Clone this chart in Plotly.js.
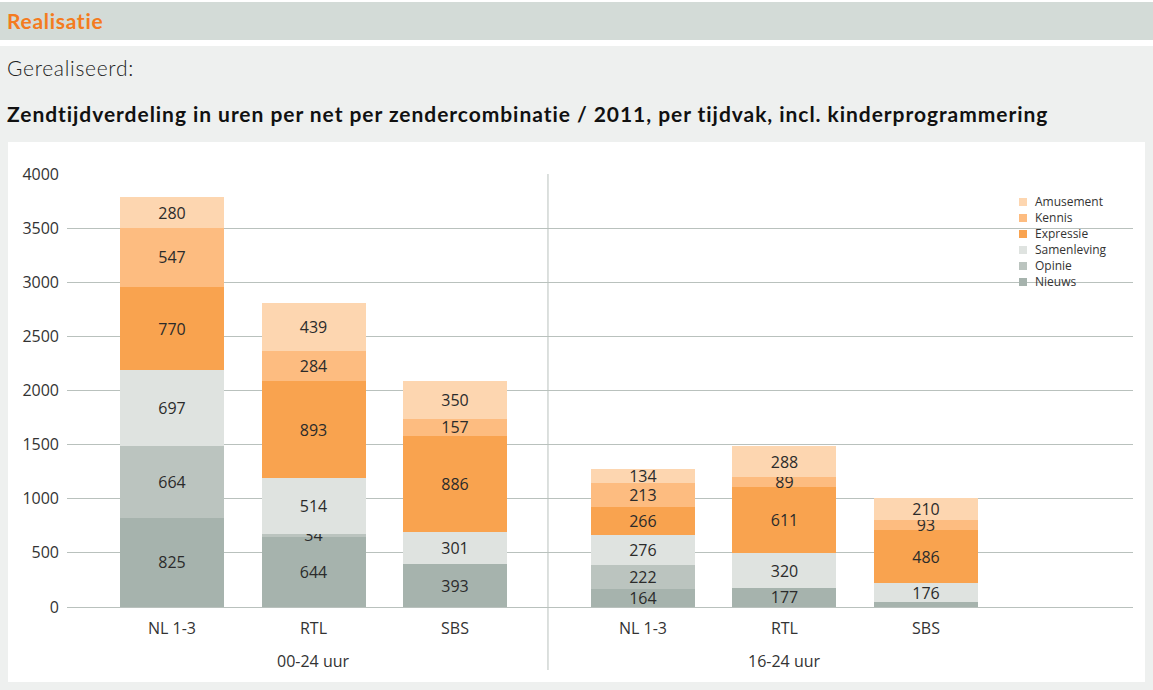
<!DOCTYPE html>
<html>
<head>
<meta charset="utf-8">
<script src="https://cdn.plot.ly/plotly-3.0.1.min.js"></script>
<style>
  html, body { margin: 0; padding: 0; width: 1153px; height: 690px; overflow: hidden; background: #ffffff; }
  #hdr { position: absolute; left: 0; top: 2px; width: 1153px; height: 38px; background: #d3dbd7; }
  #hdr span { position: absolute; left: 7px; top: 6px; font-family: Lato, sans-serif; font-weight: bold; font-size: 21px; letter-spacing: 0.7px; color: #f47b20; }
  #panel { position: absolute; left: 0; top: 46px; width: 1153px; height: 644px; background: #eef0ef; }
  #sub { position: absolute; left: 7px; top: 55px; font-family: Lato, sans-serif; font-weight: 300; font-size: 21px; letter-spacing: 0.7px; color: #222; }
  #ttl { position: absolute; left: 7px; top: 101px; font-family: Lato, sans-serif; font-weight: bold; font-size: 21px; letter-spacing: 0.95px; color: #111; white-space: nowrap; }
  #chart { position: absolute; left: 8px; top: 142px; width: 1137px; height: 540px; background: #fff; }
</style>
</head>
<body>
<div id="hdr"><span>Realisatie</span></div>
<div id="panel"></div>
<div id="sub">Gerealiseerd:</div>
<div id="ttl">Zendtijdverdeling in uren per net per zendercombinatie / 2011, per tijdvak, incl. kinderprogrammering</div>
<div id="chart"></div>
<script>
// ---- data ----
const categories = ['NL 1-3', 'RTL', 'SBS'];
const groups = ['00-24 uur', '16-24 uur'];
const seriesNames = ['Nieuws', 'Opinie', 'Samenleving', 'Expressie', 'Kennis', 'Amusement'];

const nieuws00 = [825, 644, 393];
const nieuws16 = [164, 177, 45];
const opinie00 = [664, 34, 0];
const opinie16 = [222, 0, 0];
const samenleving00 = [697, 514, 301];
const samenleving16 = [276, 320, 176];
const expressie00 = [770, 893, 886];
const expressie16 = [266, 611, 486];
const kennis00 = [547, 284, 157];
const kennis16 = [213, 89, 93];
const amusement00 = [280, 439, 350];
const amusement16 = [134, 288, 210];

// labels shown in the bars ('' = not labelled)
const nieuwsLabels16 = ['164', '177', ''];

const yTicks = [0, 500, 1000, 1500, 2000, 2500, 3000, 3500, 4000];

// ---- styling ----
const colors = {
  Nieuws: '#a6b3ad', Opinie: '#bbc4bf', Samenleving: '#dfe3e0',
  Expressie: '#f9a34f', Kennis: '#fdbc80', Amusement: '#fdd6b0'
};
const values00 = [nieuws00, opinie00, samenleving00, expressie00, kennis00, amusement00];
const values16 = [nieuws16, opinie16, samenleving16, expressie16, kennis16, amusement16];

function lbl(arr) { return arr.map(v => v > 0 ? String(v) : ''); }

const labelFont = { family: 'Open Sans, sans-serif', size: 16, color: '#2b2b2b' };
const traces = [];
seriesNames.forEach((name, i) => {
  const common = {
    type: 'bar', name: name, x: categories,
    marker: { color: colors[name], line: { width: 0 } },
    textposition: 'inside', insidetextanchor: 'middle', textangle: 0,
    textfont: labelFont, hoverinfo: 'skip', cliponaxis: false, showlegend: false
  };
  traces.push(Object.assign({}, common, {
    y: values00[i], text: lbl(values00[i]), xaxis: 'x', yaxis: 'y'
  }));
  traces.push(Object.assign({}, common, {
    y: values16[i], text: name === 'Nieuws' ? nieuwsLabels16 : lbl(values16[i]),
    xaxis: 'x2', yaxis: 'y'
  }));
});

const gridColor = '#b9c1bd';
const tickFont = { family: 'Open Sans, sans-serif', size: 16, color: '#333' };
const split = 0.4512;
const plotH = 433;   // plot-area height in px (540 - 32 - 75)
const plotW = 1066;  // plot-area width in px (1137 - 59 - 12)

// legend drawn with shapes + annotations (16 px row spacing)
const legendShapes = [];
const legendAnn = [];
seriesNames.slice().reverse().forEach((name, k) => {
  const cy = 1 - (28 + 16 * k) / plotH;
  const h = 4 / plotH;
  legendShapes.push({
    type: 'rect', xref: 'paper', yref: 'paper',
    x0: (1011 - 59) / plotW, x1: (1019 - 59) / plotW, y0: cy - h, y1: cy + h,
    fillcolor: colors[name], line: { width: 0 }
  });
  legendAnn.push({
    xref: 'paper', yref: 'paper', x: (1025 - 59) / plotW, y: cy + 0.5 / plotH,
    xanchor: 'left', yanchor: 'middle', showarrow: false, text: name,
    font: { family: 'Open Sans, sans-serif', size: 12, color: '#333' }
  });
});

const layout = {
  width: 1137, height: 540,
  margin: { l: 59, r: 12, t: 32, b: 75 },
  paper_bgcolor: '#ffffff', plot_bgcolor: '#ffffff',
  barmode: 'stack', bargap: 0.265,
  hovermode: false, showlegend: false,
  uniformtext: { mode: 'show', minsize: 16 },
  font: { family: 'Open Sans, sans-serif', color: '#333' },
  xaxis: {
    domain: [0, split], type: 'category', range: [-0.742, 2.657],
    showgrid: false, zeroline: false, showline: false, ticks: '',
    ticklabelstandoff: 10, tickfont: tickFont, fixedrange: true
  },
  xaxis2: {
    domain: [split, 1], type: 'category', range: [-0.671, 3.463], anchor: 'y',
    showgrid: false, zeroline: false, showline: false, ticks: '',
    ticklabelstandoff: 10, tickfont: tickFont, fixedrange: true
  },
  yaxis: {
    range: [0, 4000], tickvals: yTicks, ticktext: yTicks.map(String),
    showgrid: true, gridcolor: gridColor, gridwidth: 1,
    zeroline: true, zerolinecolor: gridColor, zerolinewidth: 1,
    ticks: '', ticklabelstandoff: 7, tickfont: tickFont, fixedrange: true
  },
  shapes: [{
    type: 'line', xref: 'paper', yref: 'paper',
    x0: split, x1: split, y0: -63 / plotH, y1: 1,
    line: { color: gridColor, width: 1 }
  }].concat(legendShapes),
  annotations: [
    { xref: 'x', yref: 'paper', x: 1, y: -54 / plotH, text: groups[0], showarrow: false,
      yanchor: 'middle', font: tickFont },
    { xref: 'x2', yref: 'paper', x: 1, y: -54 / plotH, text: groups[1], showarrow: false,
      yanchor: 'middle', font: tickFont }
  ].concat(legendAnn)
};

Plotly.newPlot('chart', traces, layout, { displayModeBar: false, staticPlot: true });
</script>
</body>
</html>
